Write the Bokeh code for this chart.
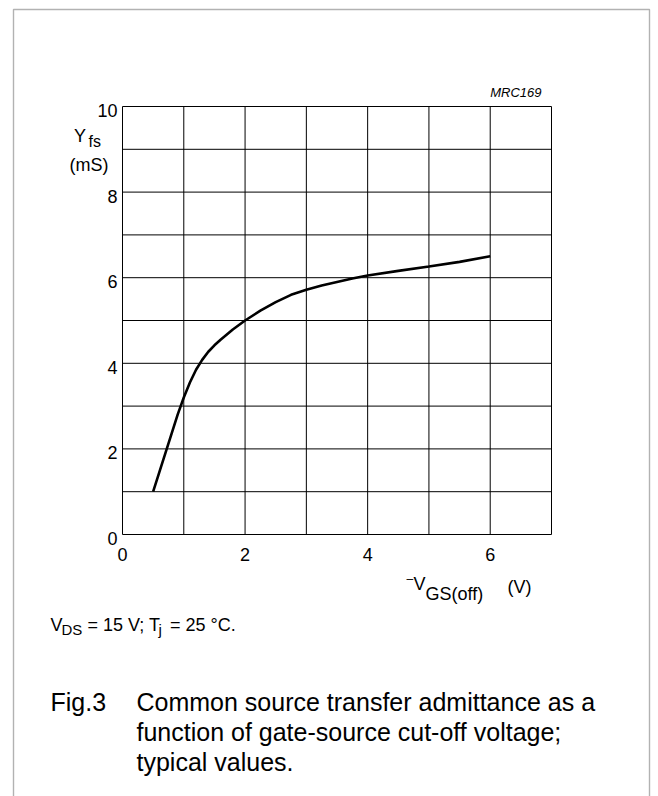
from bokeh.plotting import figure
from bokeh.models import Label, BoxAnnotation, Range1d
from bokeh.embed import file_html
from bokeh.resources import INLINE

# ---- data ----
vgs_off = [0.5, 0.6, 0.7, 0.8, 0.9, 1.0, 1.1, 1.2, 1.3, 1.4, 1.5, 1.6, 1.8, 2.0,
           2.25, 2.5, 2.75, 3.0, 3.25, 3.5, 3.75, 4.0, 4.5, 5.0, 5.5, 6.0]
yfs = [1.0, 1.45, 1.9, 2.35, 2.8, 3.2, 3.55, 3.85, 4.08, 4.27, 4.42, 4.55, 4.79, 5.0,
       5.23, 5.43, 5.6, 5.72, 5.82, 5.9, 5.98, 6.05, 6.16, 6.26, 6.37, 6.5]
x_tick_values = [0, 2, 4, 6]
x_tick_labels = ["0", "2", "4", "6"]
y_tick_values = [0, 2, 4, 6, 8, 10]
y_tick_labels = ["0", "2", "4", "6", "8", "10"]
x_grid_values = [0, 1, 2, 3, 4, 5, 6, 7]
y_grid_values = [0, 1, 2, 3, 4, 5, 6, 7, 8, 9, 10]
x_min, x_max = 0, 7
y_min, y_max = 0, 10

FONT = "Liberation Sans"

# canvas and plot-box geometry (pixels)
W, H = 656, 796
BOX_L, BOX_R, BOX_T, BOX_B = 122, 551, 106, 534
XPX = (x_max - x_min) / (BOX_R - BOX_L)   # data units per pixel
YPX = (y_max - y_min) / (BOX_B - BOX_T)
TEXT_SHIFT = 6   # pixels: raise all text slightly

def dx(px):
    return x_min + (px - BOX_L) * XPX

def dy(py):
    return y_min + (BOX_B - py) * YPX

p = figure(width=W, height=H, x_range=Range1d(dx(0), dx(W)), y_range=Range1d(dy(H), dy(0)),
           output_backend="svg", toolbar_location=None,
           x_axis_location=None, y_axis_location=None,
           min_border=0)
p.min_border_left = p.min_border_right = p.min_border_top = p.min_border_bottom = 0
p.grid.visible = False
p.outline_line_color = None
p.background_fill_color = "white"
p.border_fill_color = "white"

# grid (through the plot's scales)
p.segment(x0=x_grid_values, y0=[y_min] * len(x_grid_values),
          x1=x_grid_values, y1=[y_max] * len(x_grid_values),
          line_color="black", line_width=1)
p.segment(x0=[x_min] * len(y_grid_values), y0=y_grid_values,
          x1=[x_max] * len(y_grid_values), y1=y_grid_values,
          line_color="black", line_width=1)

# curve
p.line(vgs_off, yfs, line_color="black", line_width=2.6)

def add_text(text, x, y, size, style="normal", align="left"):
    p.add_layout(Label(x=x, y=y + TEXT_SHIFT * YPX, text=text, text_font=FONT,
                       text_font_size=f"{size}px", text_font_style=style,
                       text_color="black", text_align=align,
                       text_baseline="alphabetic"))

def lab(text, px, py, size, style="normal", align="left"):
    add_text(text, dx(px), dy(py), size, style, align)

# tick labels (positions from the tick arrays, offset a few pixels off the box)
for v, t in zip(x_tick_values, x_tick_labels):
    add_text(t, v, y_min - 26 * YPX, 18, align="center")
for v, t in zip(y_tick_values, y_tick_labels):
    add_text(t, x_min - 5 * XPX, v - 10 * YPX, 18, align="right")

# outer border (open at the bottom of the page)
p.add_layout(BoxAnnotation(left=dx(13), right=dx(649), top=dy(9), bottom=dy(H + 20),
                           fill_alpha=0, line_color="black", line_width=1.4))

lab("MRC169", 541, 98, 13, style="italic", align="right")
lab("Y", 73.5, 141, 18)
lab("fs", 88, 147, 16)
lab("(mS)", 69, 170, 18)

lab("\u2013", 406, 584, 12)
lab("V", 413, 589, 18)
lab("GS(off)", 425, 599, 18)
lab("(V)", 507, 592, 18)

lab("V", 50, 630, 18)
lab("DS", 61, 635, 15)
lab("= 15 V; T", 87, 630, 18)
lab("j", 158, 635, 15)
lab("= 25 \u00b0C.", 169.5, 630, 18)

lab("Fig.3", 50, 707, 25)
lab("Common source transfer admittance as a", 136, 707, 25)
lab("function of gate-source cut-off voltage;", 136, 737, 25)
lab("typical values.", 136, 767, 25)

open("out.html", "w").write(file_html(p, INLINE))
